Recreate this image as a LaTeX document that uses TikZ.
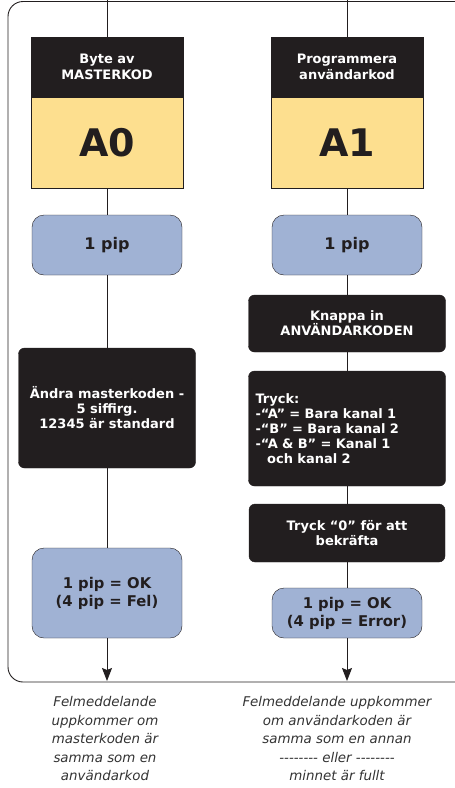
\documentclass[tikz,border=0pt]{standalone}
\usepackage{fontspec}
\setmainfont{DejaVu Sans}
\usetikzlibrary{arrows.meta}
\definecolor{boxblack}{HTML}{221E1F}
\definecolor{codeyellow}{HTML}{FDDF8F}
\definecolor{pipblue}{HTML}{A0B2D4}
\definecolor{notegray}{HTML}{333333}
\tikzset{
	header/.style={
			draw=boxblack, fill=boxblack, text=white, align=center,
			minimum width=152pt, minimum height=60pt,
			font=\bfseries\fontsize{13}{16}\selectfont},
	codebox/.style={
			draw=boxblack, fill=codeyellow, text=boxblack,
			minimum width=152pt, minimum height=91pt,
			font=\bfseries\fontsize{38}{40}\selectfont},
	pipbox/.style={
			draw=boxblack, fill=pipblue, text=boxblack, align=center,
			rounded corners=12pt, minimum width=150pt,
			font=\bfseries\fontsize{14.8}{18}\selectfont},
	stepbox/.style={
			draw=boxblack, fill=boxblack, text=white, align=center,
			rounded corners=6pt,
			font=\bfseries\fontsize{13}{15}\selectfont},
	note/.style={
			text=notegray, align=center,
			font=\itshape\fontsize{13.4}{18.5}\selectfont},
	flow/.style={boxblack, line width=0.9pt}
}

\begin{document}
\begin{tikzpicture}[x=1pt, y=-1pt]
	\useasboundingbox (0,0) rectangle (455,788);
	\clip (0,0) rectangle (455,788);

	% Frame
	\draw[flow, rounded corners=15pt] (500,1.5) -- (8,1.5) -- (8,682) -- (500,682);

	% Column A0
	\coordinate (topA) at (107,0);
	\node[header]  (headA) at (107,67)  {Byte av\\MASTERKOD};
	\node[codebox, anchor=north] (codeA) at (headA.south) {A0};
	\node[pipbox, minimum height=60pt, font=\bfseries\fontsize{16}{18}\selectfont] (pipA) at (107,245) {1 pip};
	\node[stepbox, minimum width=177pt, minimum height=120pt] (newA) at (107,408)
		{Ändra masterkoden -\\5 siffirg.\\12345 är standard};
	\node[pipbox, minimum height=90pt] (okA) at (107,593) {1 pip = OK\\(4 pip = Fel)};
	\coordinate (endA) at (107,681);

	% Column A1
	\coordinate (topB) at (347,0);
	\node[header]  (headB) at (347,67)  {Programmera\\användarkod};
	\node[codebox, anchor=north] (codeB) at (headB.south) {A1};
	\node[pipbox, minimum height=60pt, font=\bfseries\fontsize{16}{18}\selectfont] (pipB) at (347,245) {1 pip};
	\node[stepbox, minimum width=197pt, minimum height=57pt] (keyB) at (347,323.5)
		{Knappa in\\ANVÄNDARKODEN};
	\node[stepbox, minimum width=197pt, minimum height=115pt, align=left,
		text width=183pt, inner xsep=7pt] (chanB) at (347,428.5)
		{Tryck:\\-“A” = Bara kanal 1\\-“B” = Bara kanal 2\\-“A \& B” = Kanal 1\\\hspace*{0.9em}och kanal 2};
	\node[stepbox, minimum width=196pt, minimum height=58pt] (confB) at (347,533)
		{Tryck “0” för att\\bekräfta};
	\node[pipbox, minimum height=50pt] (okB) at (347,613) {1 pip = OK\\(4 pip = Error)};
	\coordinate (endB) at (347,681);

	% Connectors
	\foreach \a/\b in {topA/headA, codeA/pipA, pipA/newA, newA/okA,
			topB/headB, codeB/pipB, pipB/keyB, keyB/chanB, chanB/confB, confB/okB}
		\draw[flow] (\a) -- (\b);
	\draw[flow, -{Stealth[length=13pt, width=10pt, inset=2pt]}] (okA) -- (endA);
	\draw[flow, -{Stealth[length=13pt, width=10pt, inset=2pt]}] (okB) -- (endB);

	% Notes
	\node[note, anchor=north] (noteA) at (105,693)
		{Felmeddelande\\uppkommer om\\masterkoden är\\samma som en\\användarkod};
	\node[note, anchor=north] (noteB) at (337,693)
		{Felmeddelande uppkommer\\om användarkoden är\\samma som en annan\\-{}-{}-{}-{}-{}-{}-{}- eller -{}-{}-{}-{}-{}-{}-{}-\\minnet är fullt};
\end{tikzpicture}
\end{document}
